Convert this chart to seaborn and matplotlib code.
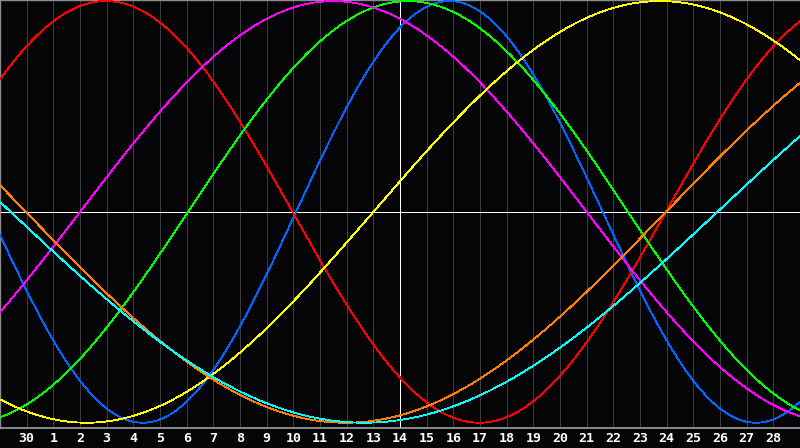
import numpy as np
import pandas as pd
import seaborn as sns
import matplotlib
matplotlib.use("Agg")
import matplotlib.pyplot as plt

# biorhythm cycles: length in days, and day index (from left edge) where each curve crosses zero going up
cycles = ["physical", "emotional", "intellectual", "intuitive", "aesthetic", "awareness", "spiritual"]
periods = [23, 28, 33, 38, 43, 48, 53]
zero_up = [11.1, 24.97, 7.05, 3.0, 14.0, 24.97, 26.9]
colors = ["#0066ff", "#ff0000", "#00ff00", "#ff00ff", "#ffff00", "#ff8000", "#00ffff"]

# day labels along the bottom (previous month's 30th, then 1..28)
day_labels = ["30"] + [str(d) for d in range(1, 29)]
today = 15

bg = "#050508"

t = np.linspace(0, 30, 601)
rows = []
for name, p, z in zip(cycles, periods, zero_up):
    v = np.sin(2 * np.pi * (t - z) / p)
    rows.append(pd.DataFrame({"day": t, "value": v, "cycle": name}))
df = pd.concat(rows, ignore_index=True)

sns.set_style("dark")
fig = plt.figure(figsize=(8, 4.48), dpi=100, facecolor=bg)
ax = fig.add_axes([0, 20 / 448, 1, 428 / 448])
ax.set_facecolor(bg)

ax.set_xticks(range(1, 30))
ax.grid(axis="x", color="#3c3c3c", lw=0.72, antialiased=False)
ax.grid(axis="y", visible=False)

sns.lineplot(data=df, x="day", y="value", hue="cycle", palette=dict(zip(cycles, colors)),
             legend=False, ax=ax, lw=0.6, antialiased=False, zorder=3)

ax.axhline(0, color="white", lw=0.72, zorder=2, antialiased=False)
ax.axvline(today, color="white", lw=0.72, zorder=2, antialiased=False)

ax.set_xlim(0, 30)
ax.set_ylim(-1.025, 1.005)
ax.set_xticklabels(day_labels, color="white", fontsize=9.5, fontweight="bold", family="DejaVu Sans Mono")
ax.tick_params(axis="x", length=0, pad=3)
ax.set_yticks([])
ax.set_xlabel("")
ax.set_ylabel("")

for side in ["top", "left"]:
    ax.spines[side].set_color("#8c8c8c")
    ax.spines[side].set_linewidth(1.0)
ax.spines["bottom"].set_color("#a0a0a0")
ax.spines["bottom"].set_linewidth(1.2)
ax.spines["right"].set_visible(False)

fig.savefig("out.png", dpi=100, facecolor=bg)
